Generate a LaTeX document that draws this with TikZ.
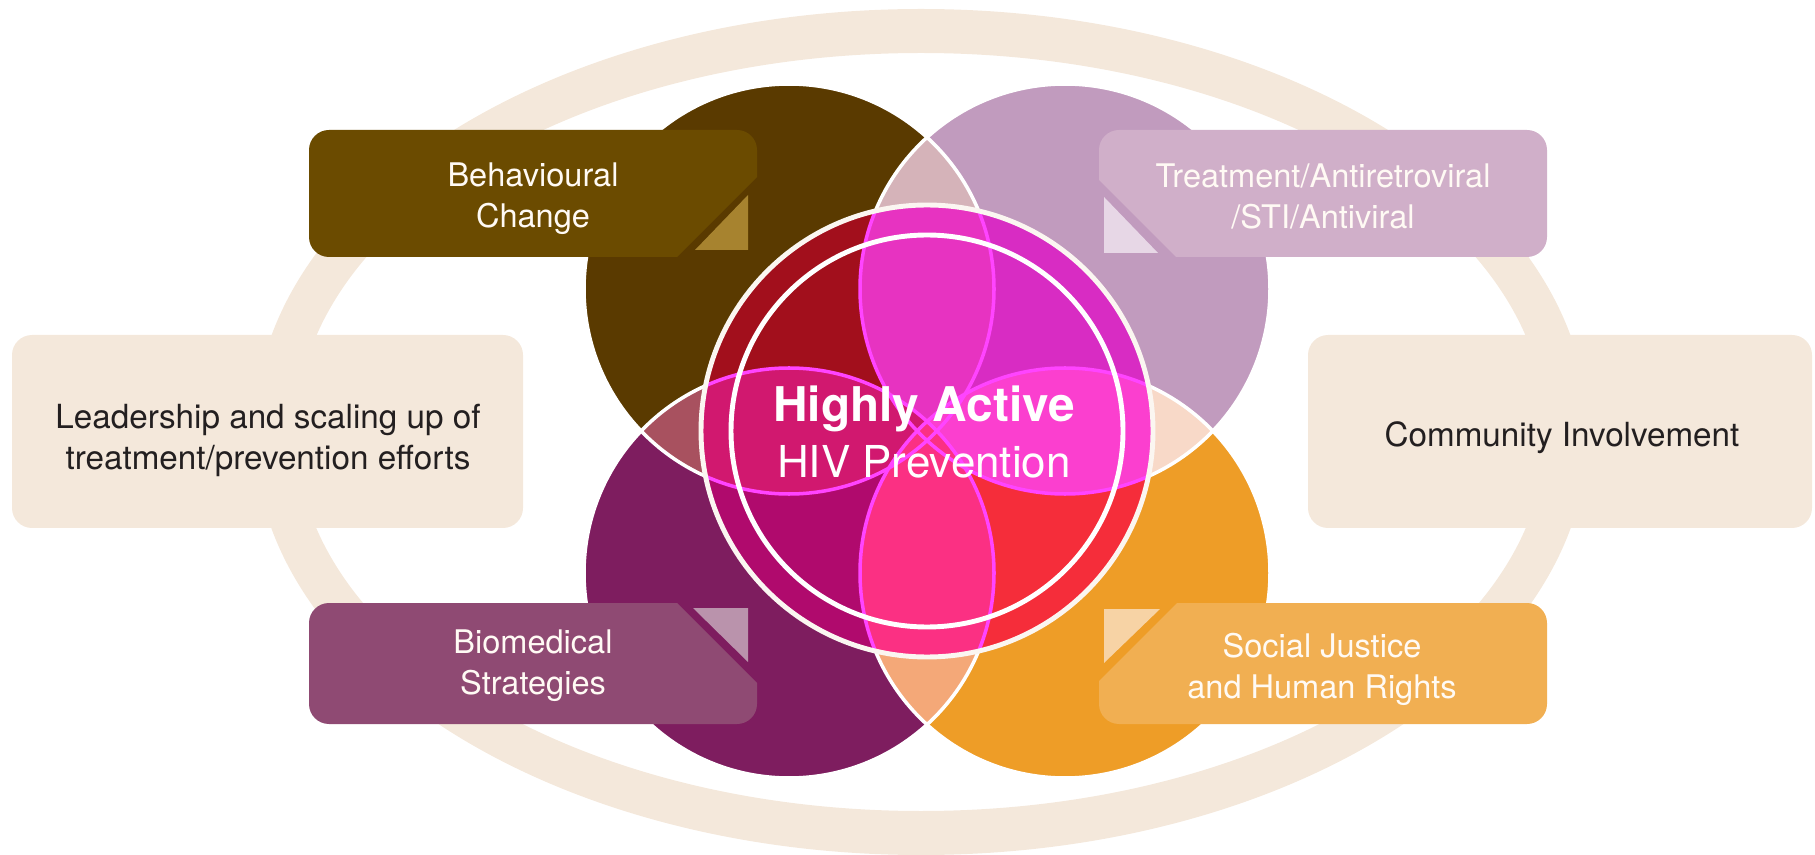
\documentclass[tikz,border=0pt]{standalone}
\usepackage{fontspec}
\setmainfont{TeX Gyre Heros}

\definecolor{ringbeige}{HTML}{F4E8DB}
\definecolor{darktxt}{HTML}{231F20}
\definecolor{lighttxt}{HTML}{FFFAF4}
% outer circles
\definecolor{brownc}{HTML}{5A3A00}
\definecolor{mauvec}{HTML}{C19BBE}
\definecolor{purplec}{HTML}{7E1D5F}
\definecolor{orangec}{HTML}{EE9D27}
% lenses outside the centre
\definecolor{lenstop}{HTML}{D5B3B9}
\definecolor{lensleft}{HTML}{A8515F}
\definecolor{lensright}{HTML}{F8D9C8}
\definecolor{lensbottom}{HTML}{F4A878}
% inside the centre
\definecolor{hotbrown}{HTML}{A20F1C}
\definecolor{hotmauve}{HTML}{D82CC3}
\definecolor{hotpurple}{HTML}{B00A6D}
\definecolor{hotorange}{HTML}{F52D3A}
\definecolor{hottop}{HTML}{E733C1}
\definecolor{hotleft}{HTML}{D1186F}
\definecolor{hotright}{HTML}{FB3FCF}
\definecolor{hotbottom}{HTML}{FB3083}
\definecolor{hotline}{HTML}{FF44FF}
% label boxes
\definecolor{behavbox}{HTML}{6B4B00}
\definecolor{behavtri}{HTML}{A7832F}
\definecolor{treatbox}{HTML}{D0AFC9}
\definecolor{treattri}{HTML}{E7D7E6}
\definecolor{biobox}{HTML}{8F4A73}
\definecolor{biotri}{HTML}{BA93AC}
\definecolor{socialbox}{HTML}{F1AF52}
\definecolor{socialtri}{HTML}{F7D3A5}

\begin{document}
\begin{tikzpicture}[x=0.01cm, y=-0.01cm,
    petal/.style={radius=205},
    lighttext/.style={text=lighttxt, align=center, font=\fontsize{9.25}{11.66}\selectfont},
    darktext/.style={text=darktxt, align=center, font=\fontsize{9.45}{11.66}\selectfont},
    labelbox/.style={rounded corners=0.2cm}]
    \useasboundingbox (0,0) rectangle (1815,855); % bounding box

    % outer ring
    \fill [ringbeige, even odd rule] (921,432) ellipse [x radius=667, y radius=423]
                                     (921,432) ellipse [x radius=625, y radius=379];

    % side boxes
    \fill [ringbeige, labelbox] (  12,335) rectangle ( 523,528);
    \fill [ringbeige, labelbox] (1308,335) rectangle (1812,528);

    % centres of the four circles
    \coordinate (C)  at ( 927,431);
    \coordinate (bc) at ( 789,289);
    \coordinate (mc) at (1065,289);
    \coordinate (pc) at ( 789,573);
    \coordinate (oc) at (1065,573);

    % four circles
    \fill [brownc]  (bc) circle [petal];
    \fill [mauvec]  (mc) circle [petal];
    \fill [purplec] (pc) circle [petal];
    \fill [orangec] (oc) circle [petal];

    % lenses
    \begin{scope} \clip (bc) circle [petal]; \fill [lenstop]    (mc) circle [petal]; \end{scope}
    \begin{scope} \clip (bc) circle [petal]; \fill [lensleft]   (pc) circle [petal]; \end{scope}
    \begin{scope} \clip (mc) circle [petal]; \fill [lensright]  (oc) circle [petal]; \end{scope}
    \begin{scope} \clip (pc) circle [petal]; \fill [lensbottom] (oc) circle [petal]; \end{scope}

    \begin{scope}[every path/.style={draw=white, line width=1pt}]
        \draw (bc) circle [petal];
        \draw (mc) circle [petal];
        \draw (pc) circle [petal];
        \draw (oc) circle [petal];
    \end{scope}

    % centre
    \begin{scope}
        \clip (C) circle [radius=226];
        \fill [hotbrown]  (bc) circle [petal];
        \fill [hotmauve]  (mc) circle [petal];
        \fill [hotpurple] (pc) circle [petal];
        \fill [hotorange] (oc) circle [petal];
        \begin{scope} \clip (bc) circle [petal]; \fill [hottop]    (mc) circle [petal]; \end{scope}
        \begin{scope} \clip (bc) circle [petal]; \fill [hotleft]   (pc) circle [petal]; \end{scope}
        \begin{scope} \clip (mc) circle [petal]; \fill [hotright]  (oc) circle [petal]; \end{scope}
        \begin{scope} \clip (pc) circle [petal]; \fill [hotbottom] (oc) circle [petal]; \end{scope}
        \begin{scope}[every path/.style={draw=hotline, line width=1pt}]
            \draw (bc) circle [petal];
            \draw (mc) circle [petal];
            \draw (pc) circle [petal];
            \draw (oc) circle [petal];
        \end{scope}
    \end{scope}
    \draw [ringbeige!40, line width=1.4pt] (C) circle [radius=226];
    \draw [white, line width=1.4pt]        (C) circle [radius=196];

    % label boxes, each with one corner cut off
    \begin{scope}
        \clip ( 300,120) -- ( 770,120) -- ( 770,164) -- ( 664,270) -- ( 300,270) -- cycle;
        \fill [behavbox, labelbox] ( 309,130) rectangle ( 757,257);
    \end{scope}
    \begin{scope}
        \clip (1560,120) -- (1560,270) -- (1189,270) -- (1086,167) -- (1086,120) -- cycle;
        \fill [treatbox, labelbox] (1099,130) rectangle (1547,257);
    \end{scope}
    \begin{scope}
        \clip ( 300,590) -- ( 664,590) -- ( 770,696) -- ( 770,735) -- ( 300,735) -- cycle;
        \fill [biobox, labelbox] ( 309,603) rectangle ( 757,724);
    \end{scope}
    \begin{scope}
        \clip (1560,590) -- (1190,590) -- (1086,694) -- (1086,735) -- (1560,735) -- cycle;
        \fill [socialbox, labelbox] (1099,603) rectangle (1547,724);
    \end{scope}

    % folded corners
    \fill [behavtri]  ( 695,250) -- ( 748,250) -- ( 748,195) -- cycle;
    \fill [treattri]  (1104,197) -- (1104,253) -- (1158,253) -- cycle;
    \fill [biotri]    ( 693,608) -- ( 748,608) -- ( 748,662) -- cycle;
    \fill [socialtri] (1104,609) -- (1160,609) -- (1104,663) -- cycle;

    % labels
    \node [lighttext] (behav)  at ( 533,199) {Behavioural\\Change};
    \node [lighttext] (treat)  at (1323,196) {Treatment/Antiretroviral\\/STI/Antiviral};
    \node [lighttext] (biomed) at ( 533,666) {Biomedical\\Strategies};
    \node [lighttext] (social) at (1322,669) {Social Justice\\and Human Rights};
    \node [darktext]  (lead)   at ( 268,440) {Leadership and scaling up of\\treatment/prevention efforts};
    \node [darktext, anchor=base] (comm) at (1562,446) {Community Involvement};
    \node [text=white, align=center, font=\fontsize{12.5}{15.65}\selectfont] (hiv) at (924,432)
        {{\bfseries\fontsize{13.6}{15.65}\selectfont Highly Active}\\HIV Prevention};
\end{tikzpicture}
\end{document}
